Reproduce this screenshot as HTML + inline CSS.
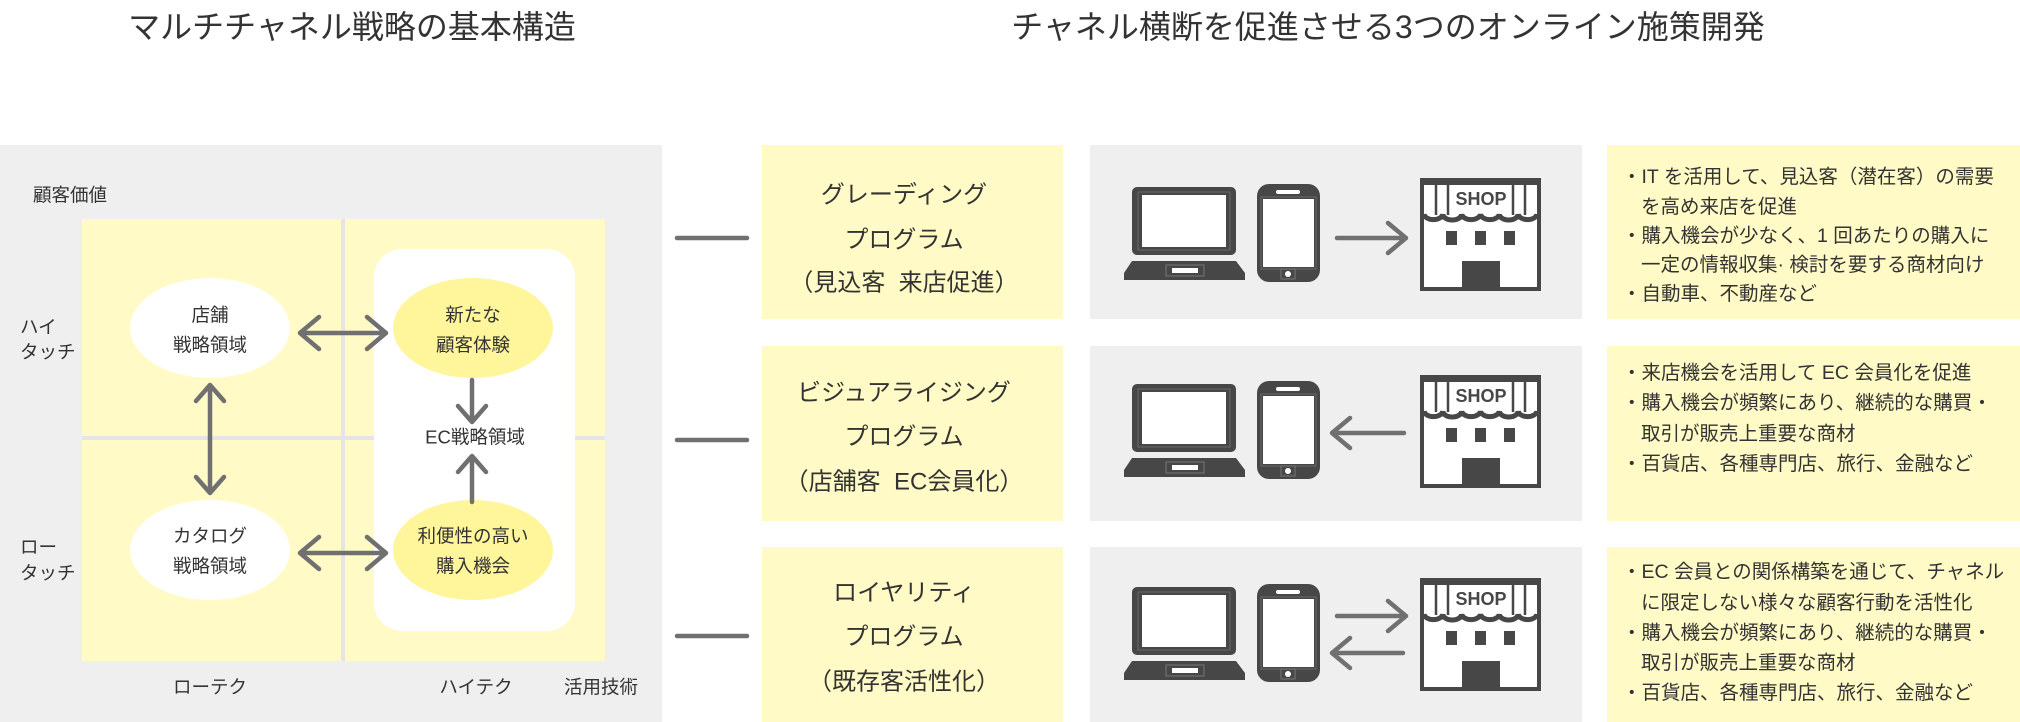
<!DOCTYPE html>
<html lang="ja">
<head>
<meta charset="utf-8">
<style>
html,body{margin:0;padding:0;background:#fff;}
svg{display:block;}
text{font-family:"Liberation Sans","Noto Sans CJK JP",sans-serif;fill:#333;dominant-baseline:central;}
.t{font-size:32px;text-anchor:middle;}
.l{font-size:18.5px;}
.c{font-size:18.5px;text-anchor:middle;}
.p{font-size:24px;text-anchor:middle;}
.d{font-size:19.5px;}
.ar{fill:none;stroke:#707070;stroke-width:4.5;stroke-linecap:round;stroke-linejoin:round;}
.dk{fill:#474747;}
</style>
</head>
<body>
<svg xmlns="http://www.w3.org/2000/svg" width="2020" height="722" viewBox="0 0 2020 722">
<!-- titles -->
<text class="t" x="352" y="27">マルチチャネル戦略の基本構造</text>
<text class="t" x="1388" y="27">チャネル横断を促進させる3つのオンライン施策開発</text>

<!-- left panel -->
<rect x="0" y="145" width="662" height="577" fill="#eeefee"/>
<rect x="82" y="219" width="523" height="442" fill="#e4e5e4"/>
<rect x="82" y="219" width="259" height="217" fill="#fffac6"/>
<rect x="345" y="219" width="260" height="217" fill="#fffac6"/>
<rect x="82" y="440" width="259" height="221" fill="#fffac6"/>
<rect x="345" y="440" width="260" height="221" fill="#fffac6"/>
<rect x="374" y="249" width="201" height="382" rx="28" ry="28" fill="#ffffff"/>

<ellipse cx="210" cy="328" rx="80" ry="50" fill="#ffffff"/>
<ellipse cx="473" cy="328" rx="80" ry="50" fill="#fff59b"/>
<ellipse cx="210" cy="550" rx="80" ry="50" fill="#ffffff"/>
<ellipse cx="473" cy="550" rx="80" ry="50" fill="#fff59b"/>

<text class="l" x="33" y="195">顧客価値</text>
<text class="l" x="20" y="327">ハイ</text>
<text class="l" x="20" y="352">タッチ</text>
<text class="l" x="20" y="547">ロー</text>
<text class="l" x="20" y="573">タッチ</text>

<text class="c" x="210" y="315">店舗</text>
<text class="c" x="210" y="345">戦略領域</text>
<text class="c" x="473" y="315">新たな</text>
<text class="c" x="473" y="345">顧客体験</text>
<text class="c" x="475" y="437">EC戦略領域</text>
<text class="c" x="210" y="536">カタログ</text>
<text class="c" x="210" y="566">戦略領域</text>
<text class="c" x="473" y="536">利便性の高い</text>
<text class="c" x="473" y="566">購入機会</text>

<text class="c" x="210" y="687">ローテク</text>
<text class="c" x="476" y="687">ハイテク</text>
<text class="c" x="601" y="687">活用技術</text>

<!-- left arrows -->
<path class="ar" d="M301 333 L385 333 M319 317 L300 333 L319 349 M367 317 L386 333 L367 349"/>
<path class="ar" d="M301 553 L385 553 M319 537 L300 553 L319 569 M367 537 L386 553 L367 569"/>
<path class="ar" d="M472 380 L472 421 M458 406 L472 422 L486 406"/>
<path class="ar" d="M472 502 L472 457 M458 472 L472 456 L486 472"/>
<path class="ar" d="M210 386 L210 492 M196 401 L210 385 L224 401 M196 477 L210 493 L224 477"/>

<!-- connectors -->
<path class="ar" d="M677 238 L747 238"/>
<path class="ar" d="M677 440 L747 440"/>
<path class="ar" d="M677 636 L747 636"/>

<!-- program boxes -->
<rect x="762" y="145" width="301" height="174" fill="#fffac6"/>
<rect x="762" y="346" width="301" height="175" fill="#fffac6"/>
<rect x="762" y="547" width="301" height="175" fill="#fffac6"/>
<text class="p" x="904" y="195">グレーディング</text>
<text class="p" x="904" y="240">プログラム</text>
<text class="p" x="904" y="283" xml:space="preserve">（見込客  来店促進）</text>
<text class="p" x="904" y="393">ビジュアライジング</text>
<text class="p" x="904" y="437">プログラム</text>
<text class="p" x="904" y="482" xml:space="preserve">（店舗客  EC会員化）</text>
<text class="p" x="904" y="593">ロイヤリティ</text>
<text class="p" x="904" y="637">プログラム</text>
<text class="p" x="904" y="682">（既存客活性化）</text>

<!-- icon boxes -->
<rect x="1090" y="145" width="492" height="174" fill="#eeefee"/>
<rect x="1090" y="346" width="492" height="175" fill="#eeefee"/>
<rect x="1090" y="547" width="492" height="175" fill="#eeefee"/>

<!-- row 1 icons -->
<g transform="translate(0,147)">
  <rect class="dk" x="1132" y="40" width="104" height="68" rx="5"/>
  <rect x="1138" y="45" width="92" height="58" fill="none" stroke="#6a6a6a" stroke-width="1"/>
  <rect x="1142" y="48" width="84" height="52" fill="#fff"/>
  <polygon class="dk" points="1132,114 1236,114 1245,126 1245,133 1124,133 1124,126"/>
  <rect x="1166" y="118" width="38" height="11" fill="none" stroke="#777" stroke-width="1"/>
  <rect x="1172" y="121" width="26" height="5" fill="#fff"/>
  <rect class="dk" x="1257" y="37" width="63" height="98" rx="12"/>
  <rect x="1261" y="50" width="55" height="72" fill="none" stroke="#6a6a6a" stroke-width="1"/>
  <rect x="1263" y="52" width="51" height="68" fill="#fff"/>
  <rect x="1276" y="43" width="24" height="4" rx="2" fill="#fff"/>
  <rect x="1281" y="122" width="14" height="10" fill="none" stroke="#777" stroke-width="1"/>
  <circle cx="1288" cy="127" r="3" fill="#fff"/>
  <path class="ar" d="M1337 91 L1405 91 M1388 76 L1406 91 L1388 106"/>
  <g transform="translate(1420,31)">
    <rect class="dk" width="121" height="113"/>
    <rect x="4" y="7" width="113" height="102" fill="#fff"/>
    <path d="M16 7 L16 37 M28 7 L28 37 M93 7 L93 37 M105 7 L105 37" stroke="#474747" stroke-width="2.5" fill="none"/>
    <rect x="30" y="10" width="61" height="23" fill="#fff"/>
    <path d="M4 36 A9.42 6 0 0 0 22.8 36 A9.42 6 0 0 0 41.7 36 A9.42 6 0 0 0 60.5 36 A9.42 6 0 0 0 79.3 36 A9.42 6 0 0 0 98.2 36 A9.42 6 0 0 0 117 36" stroke="#474747" stroke-width="5" fill="none"/>
    <text x="61" y="21" style="font-size:18px;font-weight:bold;text-anchor:middle;fill:#474747;">SHOP</text>
    <rect class="dk" x="26" y="53" width="11" height="14"/>
    <rect class="dk" x="55" y="53" width="11" height="14"/>
    <rect class="dk" x="84" y="53" width="11" height="14"/>
    <rect class="dk" x="42" y="83" width="38" height="30"/>
  </g>
</g>

<!-- row 2 icons -->
<g transform="translate(0,344)">
  <rect class="dk" x="1132" y="40" width="104" height="68" rx="5"/>
  <rect x="1138" y="45" width="92" height="58" fill="none" stroke="#6a6a6a" stroke-width="1"/>
  <rect x="1142" y="48" width="84" height="52" fill="#fff"/>
  <polygon class="dk" points="1132,114 1236,114 1245,126 1245,133 1124,133 1124,126"/>
  <rect x="1166" y="118" width="38" height="11" fill="none" stroke="#777" stroke-width="1"/>
  <rect x="1172" y="121" width="26" height="5" fill="#fff"/>
  <rect class="dk" x="1257" y="37" width="63" height="98" rx="12"/>
  <rect x="1261" y="50" width="55" height="72" fill="none" stroke="#6a6a6a" stroke-width="1"/>
  <rect x="1263" y="52" width="51" height="68" fill="#fff"/>
  <rect x="1276" y="43" width="24" height="4" rx="2" fill="#fff"/>
  <rect x="1281" y="122" width="14" height="10" fill="none" stroke="#777" stroke-width="1"/>
  <circle cx="1288" cy="127" r="3" fill="#fff"/>
  <path class="ar" d="M1334 89 L1404 89 M1350 74 L1332 89 L1350 104"/>
  <g transform="translate(1420,31)">
    <rect class="dk" width="121" height="113"/>
    <rect x="4" y="7" width="113" height="102" fill="#fff"/>
    <path d="M16 7 L16 37 M28 7 L28 37 M93 7 L93 37 M105 7 L105 37" stroke="#474747" stroke-width="2.5" fill="none"/>
    <rect x="30" y="10" width="61" height="23" fill="#fff"/>
    <path d="M4 36 A9.42 6 0 0 0 22.8 36 A9.42 6 0 0 0 41.7 36 A9.42 6 0 0 0 60.5 36 A9.42 6 0 0 0 79.3 36 A9.42 6 0 0 0 98.2 36 A9.42 6 0 0 0 117 36" stroke="#474747" stroke-width="5" fill="none"/>
    <text x="61" y="21" style="font-size:18px;font-weight:bold;text-anchor:middle;fill:#474747;">SHOP</text>
    <rect class="dk" x="26" y="53" width="11" height="14"/>
    <rect class="dk" x="55" y="53" width="11" height="14"/>
    <rect class="dk" x="84" y="53" width="11" height="14"/>
    <rect class="dk" x="42" y="83" width="38" height="30"/>
  </g>
</g>

<!-- row 3 icons -->
<g transform="translate(0,547)">
  <rect class="dk" x="1132" y="40" width="104" height="68" rx="5"/>
  <rect x="1138" y="45" width="92" height="58" fill="none" stroke="#6a6a6a" stroke-width="1"/>
  <rect x="1142" y="48" width="84" height="52" fill="#fff"/>
  <polygon class="dk" points="1132,114 1236,114 1245,126 1245,133 1124,133 1124,126"/>
  <rect x="1166" y="118" width="38" height="11" fill="none" stroke="#777" stroke-width="1"/>
  <rect x="1172" y="121" width="26" height="5" fill="#fff"/>
  <rect class="dk" x="1257" y="37" width="63" height="98" rx="12"/>
  <rect x="1261" y="50" width="55" height="72" fill="none" stroke="#6a6a6a" stroke-width="1"/>
  <rect x="1263" y="52" width="51" height="68" fill="#fff"/>
  <rect x="1276" y="43" width="24" height="4" rx="2" fill="#fff"/>
  <rect x="1281" y="122" width="14" height="10" fill="none" stroke="#777" stroke-width="1"/>
  <circle cx="1288" cy="127" r="3" fill="#fff"/>
  <path class="ar" d="M1337 69 L1405 69 M1388 54 L1406 69 L1388 84"/>
  <path class="ar" d="M1334 106 L1403 106 M1350 91 L1332 106 L1350 121"/>
  <g transform="translate(1420,31)">
    <rect class="dk" width="121" height="113"/>
    <rect x="4" y="7" width="113" height="102" fill="#fff"/>
    <path d="M16 7 L16 37 M28 7 L28 37 M93 7 L93 37 M105 7 L105 37" stroke="#474747" stroke-width="2.5" fill="none"/>
    <rect x="30" y="10" width="61" height="23" fill="#fff"/>
    <path d="M4 36 A9.42 6 0 0 0 22.8 36 A9.42 6 0 0 0 41.7 36 A9.42 6 0 0 0 60.5 36 A9.42 6 0 0 0 79.3 36 A9.42 6 0 0 0 98.2 36 A9.42 6 0 0 0 117 36" stroke="#474747" stroke-width="5" fill="none"/>
    <text x="61" y="21" style="font-size:18px;font-weight:bold;text-anchor:middle;fill:#474747;">SHOP</text>
    <rect class="dk" x="26" y="53" width="11" height="14"/>
    <rect class="dk" x="55" y="53" width="11" height="14"/>
    <rect class="dk" x="84" y="53" width="11" height="14"/>
    <rect class="dk" x="42" y="83" width="38" height="30"/>
  </g>
</g>

<!-- description boxes -->
<rect x="1607" y="145" width="413" height="174" fill="#fffac6"/>
<rect x="1607" y="346" width="413" height="175" fill="#fffac6"/>
<rect x="1607" y="547" width="413" height="175" fill="#fffac6"/>

<text class="d" x="1622" y="177">・IT を活用して、見込客（潜在客）の需要</text>
<text class="d" x="1641" y="207">を高め来店を促進</text>
<text class="d" x="1622" y="236">・購入機会が少なく、1 回あたりの購入に</text>
<text class="d" x="1641" y="265">一定の情報収集· 検討を要する商材向け</text>
<text class="d" x="1622" y="294">・自動車、不動産など</text>

<text class="d" x="1622" y="373">・来店機会を活用して EC 会員化を促進</text>
<text class="d" x="1622" y="403">・購入機会が頻繁にあり、継続的な購買・</text>
<text class="d" x="1641" y="434">取引が販売上重要な商材</text>
<text class="d" x="1622" y="464">・百貨店、各種専門店、旅行、金融など</text>

<text class="d" x="1622" y="572">・EC 会員との関係構築を通じて、チャネル</text>
<text class="d" x="1641" y="603">に限定しない様々な顧客行動を活性化</text>
<text class="d" x="1622" y="633">・購入機会が頻繁にあり、継続的な購買・</text>
<text class="d" x="1641" y="663">取引が販売上重要な商材</text>
<text class="d" x="1622" y="693">・百貨店、各種専門店、旅行、金融など</text>
</svg>
</body>
</html>
